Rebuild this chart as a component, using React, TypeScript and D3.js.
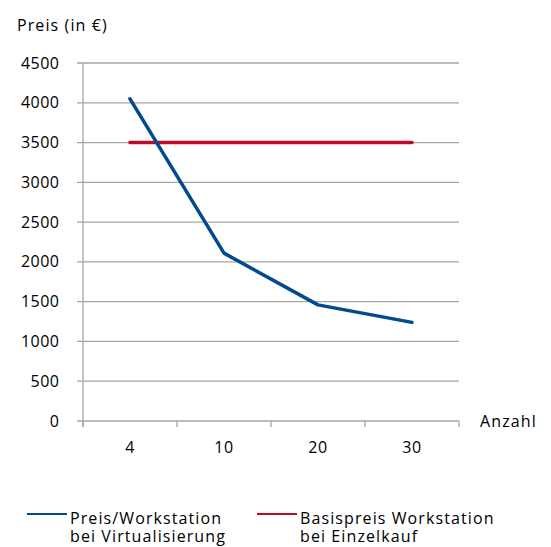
import React, { useEffect, useRef } from 'react'
import * as d3 from 'd3'

const categories = ['4', '10', '20', '30']
const virtualPrices = [4050, 2110, 1460, 1240]
const basePrices = [3500, 3500, 3500, 3500]
const yTicks = [0, 500, 1000, 1500, 2000, 2500, 3000, 3500, 4000, 4500]
const legendLabels = [
  ['Preis/Workstation', 'bei Virtualisierung'],
  ['Basispreis Workstation', 'bei Einzelkauf'],
]

const W = 551, H = 547
const FONT = '"Gill Sans", "Open Sans", "DejaVu Sans", sans-serif'
const FS = 16
const LS = 1.1
const BLUE = '#004a8d'
const RED = '#be0a26'
const GRID = '#a6a6a6'

export default function App() {
  const ref = useRef<SVGSVGElement>(null)
  useEffect(() => {
    const el = ref.current
    if (!el) return
    const svg = d3.select(el)
    svg.selectAll('*').remove()
    svg.append('rect').attr('width', W).attr('height', H).attr('fill', '#fff')

    const x = d3.scaleBand().domain(categories).range([83, 459]).padding(0)
    const y = d3.scaleLinear().domain([0, 4500]).range([421, 63])
    const cx = (c: string) => (x(c) as number) + x.bandwidth() / 2

    // gridlines
    svg.append('g').selectAll('line').data(yTicks.filter(t => t > 0)).enter().append('line')
      .attr('x1', 77).attr('x2', 459)
      .attr('y1', d => y(d)).attr('y2', d => y(d))
      .attr('stroke', GRID).attr('stroke-width', 1.3)

    // y axis
    svg.append('line').attr('x1', 83).attr('x2', 83).attr('y1', y(4500)).attr('y2', 427)
      .attr('stroke', GRID).attr('stroke-width', 1.3)
    // x axis
    svg.append('line').attr('x1', 77).attr('x2', 459).attr('y1', y(0)).attr('y2', y(0))
      .attr('stroke', GRID).attr('stroke-width', 1.3)
    const bounds = categories.map(c => x(c) as number).concat([459])
    svg.append('g').selectAll('line').data(bounds).enter().append('line')
      .attr('x1', d => d).attr('x2', d => d).attr('y1', y(0)).attr('y2', 427)
      .attr('stroke', GRID).attr('stroke-width', 1.3)

    // y labels
    svg.append('g').selectAll('text').data(yTicks).enter().append('text')
      .attr('x', 59.5).attr('y', d => y(d) + 5.5)
      .attr('text-anchor', 'end').attr('font-family', FONT).attr('font-size', FS)
      .attr('letter-spacing', 0.5).attr('fill', '#000').text(d => String(d))

    // x labels
    svg.append('g').selectAll('text').data(categories).enter().append('text')
      .attr('x', d => cx(d)).attr('y', 453)
      .attr('text-anchor', 'middle').attr('font-family', FONT).attr('font-size', FS)
      .attr('letter-spacing', 0.5).text(d => d)

    svg.append('text').attr('x', 17).attr('y', 31).attr('font-family', FONT).attr('font-size', FS)
      .attr('letter-spacing', LS).text('Preis (in €)')
    svg.append('text').attr('x', 480).attr('y', 427).attr('font-family', FONT).attr('font-size', FS)
      .attr('letter-spacing', LS).text('Anzahl')

    const line = d3.line<number>().x((_, i) => cx(categories[i])).y(d => y(d))
    svg.append('path').attr('d', line(basePrices)).attr('fill', 'none')
      .attr('stroke', RED).attr('stroke-width', 3.5).attr('stroke-linecap', 'round')
    svg.append('path').attr('d', line(virtualPrices)).attr('fill', 'none')
      .attr('stroke', BLUE).attr('stroke-width', 3.5).attr('stroke-linecap', 'round').attr('stroke-linejoin', 'round')

    // legend
    const lx = [27, 257]
    const colors = [BLUE, RED]
    legendLabels.forEach((lines, i) => {
      svg.append('line').attr('x1', lx[i]).attr('x2', lx[i] + 40).attr('y1', 514).attr('y2', 514)
        .attr('stroke', colors[i]).attr('stroke-width', 2)
      lines.forEach((t, j) => {
        svg.append('text').attr('x', lx[i] + 43).attr('y', 524 + j * 18)
          .attr('font-family', FONT).attr('font-size', FS).attr('letter-spacing', LS).text(t)
      })
    })
  }, [])

  return <svg ref={ref} width={W} height={H} style={{ position: 'absolute', left: 0, top: 0 }} />
}
